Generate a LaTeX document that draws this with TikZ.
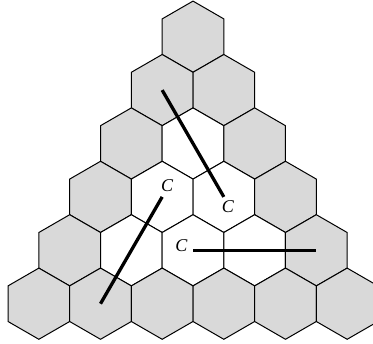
\documentclass[tikz,border=0pt]{standalone}
\usepackage{fontspec}
\setmainfont{Liberation Serif}
\definecolor{cellgray}{HTML}{D9D9D9}
\tikzset{
  hexcell/.style={draw=black, line width=1pt, line join=miter},
  seg/.style={draw=black, line width=3.3pt},
  clab/.style={inner sep=0pt, font=\fontsize{18}{21}\selectfont\itshape}
}
\begin{document}
\begin{tikzpicture}[x=1pt,y=-1pt]
\useasboundingbox (0,0) rectangle (373,344);
\clip (0,0) rectangle (373,344);
\foreach \r in {1,...,6}{
  \foreach \i in {1,...,\r}{
    \pgfmathsetmacro\cx{193+(\i-(\r+1)/2)*61.66}
    \pgfmathsetmacro\cy{36.7+(\r-1)*53.4}
    \pgfmathtruncatemacro\inner{((\r<6)&&(\i>1)&&(\i<\r))?1:0}
    \ifnum\inner=1 \def\hf{white}\else\def\hf{cellgray}\fi
    \coordinate (h\r-\i) at (\cx,\cy);
    \draw[hexcell,fill=\hf] (h\r-\i) ++(0,-35.6) -- ++(30.83,17.8) -- ++(0,35.6)
      -- ++(-30.83,17.8) -- ++(-30.83,-17.8) -- ++(0,-35.6) -- cycle;
  }
}
\draw[seg] (h2-1) -- (h4-3);
\draw[seg] (h4-2) -- (h6-2);
\draw[seg] (h5-3) -- (h5-5);
\node[clab] (c1) at ([shift={(4,9.5)}]h4-3) {C};
\node[clab] (c2) at ([shift={(5,-11)}]h4-2) {C};
\node[clab] (c3) at ([shift={(-11.5,-5)}]h5-3) {C};
\end{tikzpicture}
\end{document}
